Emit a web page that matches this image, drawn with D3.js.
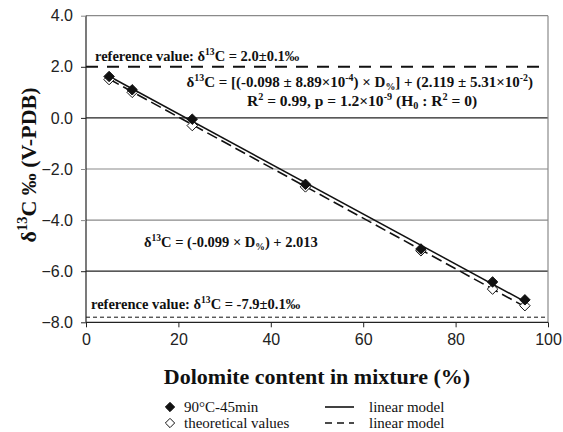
<!DOCTYPE html>
<html><head><meta charset="utf-8">
<script src="https://cdn.jsdelivr.net/npm/d3@7"></script>
<style>body{margin:0;background:#fff}svg{display:block}</style>
</head><body>
<script>
// ---- data ----
const dolomite = [5, 10, 23, 47.5, 72.5, 88, 95];
const measured = [1.62, 1.10, -0.05, -2.60, -5.13, -6.42, -7.12];   // 90°C-45min
const theoretical = [1.50, 1.00, -0.30, -2.70, -5.20, -6.70, -7.35];
const lineX = [5, 95];
const measuredFit = [1.63, -7.19];    // solid linear model
const theoreticalFit = [1.52, -7.39]; // dashed linear model
const refValues = [2.0, -7.8];
const xTicks = [0, 20, 40, 60, 80, 100];
const yTicks = [4, 2, 0, -2, -4, -6, -8];

const W = 563, H = 432;
const svg = d3.select("body").append("svg").attr("width", W).attr("height", H);
const x = d3.scaleLinear().domain([0, 100]).range([86, 548]);
const y = d3.scaleLinear().domain([-8, 4]).range([322.3, 15.7]);
const serif = "'Liberation Serif','Times New Roman',serif";
const sans = "'Liberation Sans',Arial,sans-serif";

// gridlines (incl. top border)
const gridColor = v => (v === 0 || v === -6) ? "#222" : "#8a8a8a";
svg.append("g").selectAll("line").data(yTicks.filter(v => v !== 2 && v !== -8)).join("line")
  .attr("x1", x(0)).attr("x2", x(100)).attr("y1", d => y(d)).attr("y2", d => y(d))
  .attr("stroke", gridColor).attr("stroke-width", 1.2);
// right border
svg.append("line").attr("x1", x(100)).attr("x2", x(100)).attr("y1", y(4)).attr("y2", y(-8))
  .attr("stroke", "#8a8a8a").attr("stroke-width", 1.2);

// reference lines
svg.append("line").attr("x1", x(0)).attr("x2", x(100)).attr("y1", y(refValues[0])).attr("y2", y(refValues[0]))
  .attr("stroke", "#111").attr("stroke-width", 2).attr("stroke-dasharray", "12,9");
svg.append("line").attr("x1", x(0)).attr("x2", x(100)).attr("y1", y(refValues[1])).attr("y2", y(refValues[1]))
  .attr("stroke", "#111").attr("stroke-width", 1).attr("stroke-dasharray", "4,3");

// axes
const yAxis = d3.axisLeft(y).tickValues(yTicks).tickFormat(d3.format(".1f")).tickSize(5).tickPadding(8);
const gy = svg.append("g").attr("transform", `translate(${x(0)},0)`).call(yAxis);
const xAxis = d3.axisBottom(x).tickValues(xTicks).tickSize(5).tickPadding(6);
const gx = svg.append("g").attr("transform", `translate(0,${y(-8)})`).call(xAxis);
[gx, gy].forEach(g => {
  g.select(".domain").attr("stroke", "#222").attr("stroke-width", 1.2);
  g.selectAll(".tick line").attr("stroke", "#222");
  g.selectAll(".tick text").attr("font-family", sans).attr("font-size", 16).attr("fill", "#222");
});
gx.select(".domain").attr("d", `M${x(0)},0H${x(100)}`);
gy.select(".domain").attr("d", `M0,${y(4)}V${y(-8)}`);
gy.selectAll(".tick line").filter(d => d !== -8 && d !== 2).attr("stroke", (d) => gridColor(d));

// fit lines
const line = d3.line().x(d => x(d[0])).y(d => y(d[1]));
svg.append("path").datum(lineX.map((v, i) => [v, theoreticalFit[i]])).attr("d", line)
  .attr("fill", "none").attr("stroke", "#111").attr("stroke-width", 1.6).attr("stroke-dasharray", "11,5");
svg.append("path").datum(lineX.map((v, i) => [v, measuredFit[i]])).attr("d", line)
  .attr("fill", "none").attr("stroke", "#111").attr("stroke-width", 1.5);

// markers
const diamond = d3.symbol().type(d3.symbolDiamond2).size(70);
svg.append("g").selectAll("path").data(dolomite.map((v, i) => [v, theoretical[i]])).join("path")
  .attr("d", diamond).attr("transform", d => `translate(${x(d[0])},${y(d[1])})`)
  .attr("fill", "#fff").attr("stroke", "#111").attr("stroke-width", 1);
svg.append("g").selectAll("path").data(dolomite.map((v, i) => [v, measured[i]])).join("path")
  .attr("d", diamond).attr("transform", d => `translate(${x(d[0])},${y(d[1])})`)
  .attr("fill", "#111").attr("stroke", "#111").attr("stroke-width", 1);

// rich text helper
function rich(parent, segs, attrs) {
  const t = parent.append("text");
  Object.entries(attrs).forEach(([k, v]) => t.attr(k, v));
  let shift = 0;
  segs.forEach(s => {
    const [txt, mode] = typeof s === "string" ? [s, null] : s;
    const ts = t.append("tspan").text(txt);
    let target = 0;
    if (mode === "sup") { target = -0.4; ts.attr("font-size", "0.66em"); }
    if (mode === "sub") { target = 0.22; ts.attr("font-size", "0.66em"); }
    const fs = mode ? 0.66 : 1;
    const d = (target - shift);
    if (d !== 0) ts.attr("dy", (d / fs) + "em");
    shift = target;
  });
  return t;
}
const annBase = { "font-family": serif, "font-weight": "bold", "font-size": 14.5, fill: "#111" };

rich(svg, ["reference value: δ", ["13", "sup"], "C = 2.0±0.1‰"], { ...annBase, x: 95, y: 61 });
rich(svg, ["reference value: δ", ["13", "sup"], "C = -7.9±0.1‰"], { ...annBase, x: 91, y: 309 });
rich(svg, ["δ", ["13", "sup"], "C = [(-0.098 ± 8.89×10", ["-4", "sup"], ") × D", ["%", "sub"], "] + (2.119 ± 5.31×10", ["-2", "sup"], ")"],
  { ...annBase, "font-size": 15, x: 533, y: 86.5, "text-anchor": "end" });
rich(svg, ["R", ["2", "sup"], " = 0.99, p = 1.2×10", ["-9", "sup"], " (H", ["0", "sub"], " : R", ["2", "sup"], " = 0)"],
  { ...annBase, "font-size": 15.5, x: 362, y: 106, "text-anchor": "middle" });
rich(svg, ["δ", ["13", "sup"], "C = (-0.099 × D", ["%", "sub"], ") + 2.013"], { ...annBase, x: 144, y: 247 });

// axis titles
svg.append("text").attr("x", x(50)).attr("y", 384).attr("text-anchor", "middle")
  .attr("font-family", serif).attr("font-weight", "bold").attr("font-size", 22).attr("fill", "#111")
  .text("Dolomite content in mixture (%)");
rich(svg, ["δ", ["13", "sup"], "C  ‰ (V-PDB)"], { "font-family": serif, "font-weight": "bold", "font-size": 22, fill: "#111",
  "text-anchor": "middle", transform: "translate(36,165) rotate(-90)" });

// legend
const leg = svg.append("g").attr("font-family", serif).attr("font-size", 15).attr("fill", "#111");
const legRows = [
  { label: "90°C-45min", fill: "#111", dash: null, y: 407 },
  { label: "theoretical values", fill: "#fff", dash: "7,5", y: 423 }
];
legRows.forEach(r => {
  leg.append("path").attr("d", d3.symbol().type(d3.symbolDiamond2).size(55)())
    .attr("transform", `translate(170,${r.y})`).attr("fill", r.fill).attr("stroke", "#111");
  leg.append("text").attr("x", 184).attr("y", r.y + 5).text(r.label);
  leg.append("line").attr("x1", 325).attr("x2", 354).attr("y1", r.y).attr("y2", r.y)
    .attr("stroke", "#111").attr("stroke-width", 1.6).attr("stroke-dasharray", r.dash);
  leg.append("text").attr("x", 369).attr("y", r.y + 5).text("linear model");
});
</script>
</body></html>
